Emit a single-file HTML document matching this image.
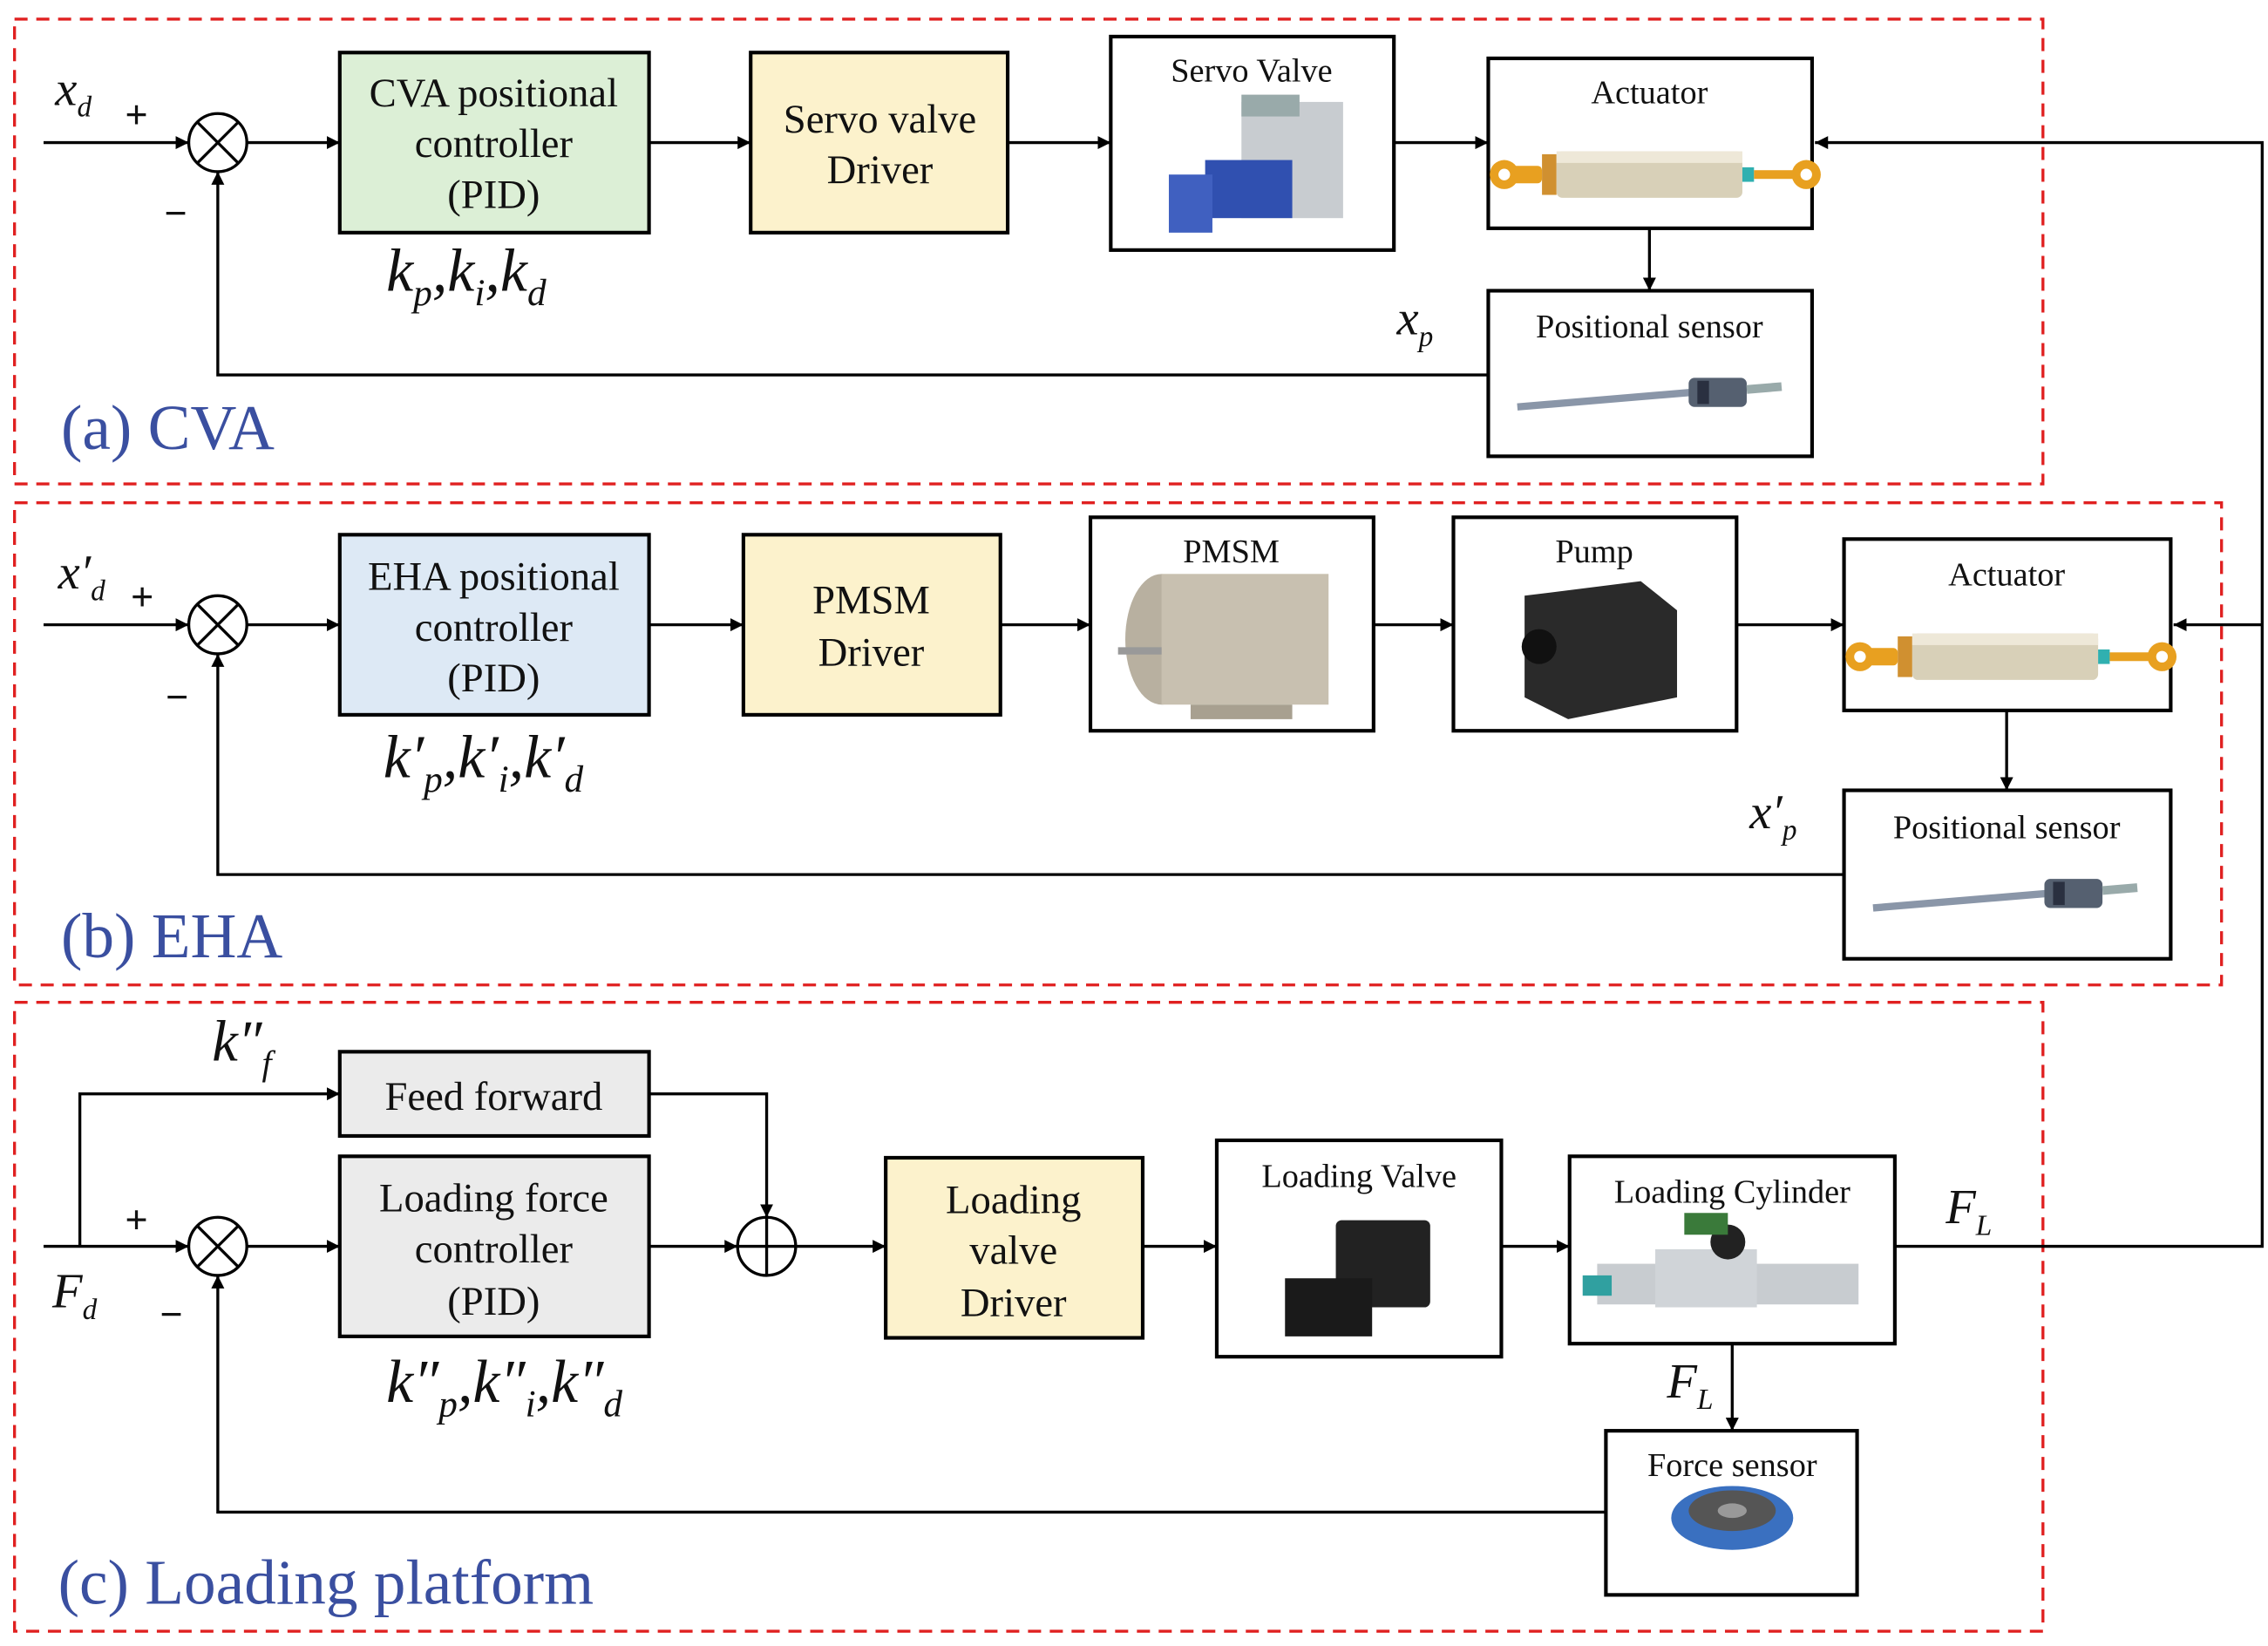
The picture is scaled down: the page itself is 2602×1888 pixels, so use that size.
<!DOCTYPE html>
<html><head><meta charset="utf-8"><style>
html,body{margin:0;padding:0;background:#fff;}
svg{display:block;}
text{font-family:"Liberation Serif",serif;fill:#111;}
.bt{font-size:28px;text-anchor:middle;}
.st{font-size:23px;text-anchor:middle;}
.lab{font-size:44px;fill:#3a4fa0;}
.m{font-style:italic;}
.pm{font-size:28px;font-weight:bold;}
</style></head><body>
<svg width="2602" height="1888" viewBox="0 0 1562 1133" xmlns="http://www.w3.org/2000/svg">
<defs>
<marker id="a" viewBox="0 0 10 10" refX="10" refY="5" markerWidth="9" markerHeight="9" markerUnits="userSpaceOnUse" orient="auto"><path d="M0,0 L10,5 L0,10 z" fill="#000"/></marker>
<g id="act">
<rect x="0" y="-6" width="22" height="12" fill="#e8a020" rx="3"/>
<circle cx="-4" cy="0" r="10" fill="#e8a020"/><circle cx="-4" cy="0" r="4" fill="#fff"/>
<rect x="22" y="-14" width="10" height="28" fill="#d09030"/>
<rect x="32" y="-16" width="128" height="32" fill="#d8d0b8" rx="4"/>
<rect x="32" y="-16" width="128" height="8" fill="#eee8d8"/>
<rect x="160" y="-5" width="8" height="10" fill="#30b0b0"/>
<rect x="168" y="-3" width="30" height="6" fill="#e8a020"/>
<circle cx="204" cy="0" r="10" fill="#e8a020"/><circle cx="204" cy="0" r="4" fill="#fff"/>
</g>
<g id="sens">
<line x1="0" y1="10" x2="120" y2="0" stroke="#8a96a8" stroke-width="5"/>
<rect x="118" y="-10" width="40" height="20" fill="#556070" rx="4"/>
<rect x="124" y="-8" width="8" height="16" fill="#2a3040"/>
<line x1="158" y1="-2" x2="182" y2="-4" stroke="#9aa" stroke-width="6"/>
</g>
</defs>
<g fill="none" stroke="#e02020" stroke-width="2" stroke-dasharray="9,6">
<rect x="10" y="13" width="1397" height="320"/>
<rect x="10" y="346" width="1520" height="332"/>
<rect x="10" y="690" width="1397" height="433"/>
</g>
<g stroke="#000" stroke-width="2" fill="none">
<line x1="30" y1="98" x2="130" y2="98" marker-end="url(#a)"/>
<line x1="170" y1="98" x2="234" y2="98" marker-end="url(#a)"/>
<line x1="447" y1="98" x2="517" y2="98" marker-end="url(#a)"/>
<line x1="694" y1="98" x2="765" y2="98" marker-end="url(#a)"/>
<line x1="960" y1="98" x2="1025" y2="98" marker-end="url(#a)"/>
<line x1="1136" y1="157" x2="1136" y2="200" marker-end="url(#a)"/>
<polyline points="1025,258 150,258 150,118" marker-end="url(#a)"/>
<line x1="30" y1="430" x2="130" y2="430" marker-end="url(#a)"/>
<line x1="170" y1="430" x2="234" y2="430" marker-end="url(#a)"/>
<line x1="447" y1="430" x2="512" y2="430" marker-end="url(#a)"/>
<line x1="689" y1="430" x2="751" y2="430" marker-end="url(#a)"/>
<line x1="946" y1="430" x2="1001" y2="430" marker-end="url(#a)"/>
<line x1="1196" y1="430" x2="1270" y2="430" marker-end="url(#a)"/>
<line x1="1382" y1="489" x2="1382" y2="544" marker-end="url(#a)"/>
<polyline points="1270,602 150,602 150,450" marker-end="url(#a)"/>
<polyline points="1305,858 1558,858 1558,98 1250,98" marker-end="url(#a)"/>
<line x1="1558" y1="430" x2="1497" y2="430" marker-end="url(#a)"/>
<line x1="30" y1="858" x2="130" y2="858" marker-end="url(#a)"/>
<polyline points="55,858 55,753 234,753" marker-end="url(#a)"/>
<polyline points="447,753 528,753 528,838" marker-end="url(#a)"/>
<line x1="170" y1="858" x2="234" y2="858" marker-end="url(#a)"/>
<line x1="447" y1="858" x2="508" y2="858" marker-end="url(#a)"/>
<line x1="548" y1="858" x2="610" y2="858" marker-end="url(#a)"/>
<line x1="787" y1="858" x2="838" y2="858" marker-end="url(#a)"/>
<line x1="1034" y1="858" x2="1081" y2="858" marker-end="url(#a)"/>
<line x1="1193" y1="925" x2="1193" y2="985" marker-end="url(#a)"/>
<polyline points="1106,1041 150,1041 150,878" marker-end="url(#a)"/>
<circle cx="150" cy="98" r="20" fill="#fff"/>
<line x1="136" y1="84" x2="164" y2="112"/><line x1="164" y1="84" x2="136" y2="112"/>
<circle cx="150" cy="430" r="20" fill="#fff"/>
<line x1="136" y1="416" x2="164" y2="444"/><line x1="164" y1="416" x2="136" y2="444"/>
<circle cx="150" cy="858" r="20" fill="#fff"/>
<line x1="136" y1="844" x2="164" y2="872"/><line x1="164" y1="844" x2="136" y2="872"/>
<circle cx="528" cy="858" r="20" fill="#fff"/>
<line x1="508" y1="858" x2="548" y2="858"/><line x1="528" y1="838" x2="528" y2="878"/>
</g>
<g stroke="#000" stroke-width="2.5">
<rect x="234" y="36" width="213" height="124" fill="#dcefd6"/>
<rect x="517" y="36" width="177" height="124" fill="#fcf2cc"/>
<rect x="765" y="25" width="195" height="147" fill="#fff"/>
<rect x="1025" y="40" width="223" height="117" fill="#fff"/>
<rect x="1025" y="200" width="223" height="114" fill="#fff"/>
<rect x="234" y="368" width="213" height="124" fill="#dde9f5"/>
<rect x="512" y="368" width="177" height="124" fill="#fcf2cc"/>
<rect x="751" y="356" width="195" height="147" fill="#fff"/>
<rect x="1001" y="356" width="195" height="147" fill="#fff"/>
<rect x="1270" y="371" width="225" height="118" fill="#fff"/>
<rect x="1270" y="544" width="225" height="116" fill="#fff"/>
<rect x="234" y="724" width="213" height="58" fill="#ebebeb"/>
<rect x="234" y="796" width="213" height="124" fill="#ebebeb"/>
<rect x="610" y="797" width="177" height="124" fill="#fcf2cc"/>
<rect x="838" y="785" width="196" height="149" fill="#fff"/>
<rect x="1081" y="796" width="224" height="129" fill="#fff"/>
<rect x="1106" y="985" width="173" height="113" fill="#fff"/>
</g>
<g>
<rect x="855" y="70" width="70" height="80" fill="#c8ccd0"/><rect x="830" y="110" width="60" height="40" fill="#3050b0"/>
<rect x="805" y="120" width="30" height="40" fill="#4060c0"/><rect x="855" y="65" width="40" height="15" fill="#9aa"/>
<use href="#act" x="1040" y="120"/>
<use href="#sens" x="1045" y="270"/>
<ellipse cx="800" cy="440" rx="25" ry="45" fill="#b8b0a0"/>
<rect x="800" y="395" width="115" height="90" fill="#c8c0b0"/>
<rect x="820" y="485" width="70" height="10" fill="#a8a090"/>
<line x1="770" y1="448" x2="800" y2="448" stroke="#999" stroke-width="5"/>
<path d="M1050,410 L1130,400 L1155,420 L1155,480 L1080,495 L1050,480 Z" fill="#2a2a2a"/>
<circle cx="1060" cy="445" r="12" fill="#111"/>
<use href="#act" x="1285" y="452"/>
<use href="#sens" x="1290" y="615"/>
<rect x="920" y="840" width="65" height="60" fill="#222" rx="4"/><rect x="885" y="880" width="60" height="40" fill="#1a1a1a"/>
<rect x="1100" y="870" width="180" height="28" fill="#c8ccd0"/>
<rect x="1140" y="860" width="70" height="40" fill="#d0d4d8"/>
<circle cx="1190" cy="855" r="12" fill="#222"/>
<rect x="1160" y="835" width="30" height="15" fill="#3a7a3a"/>
<rect x="1090" y="878" width="20" height="14" fill="#30a0a0"/>
<ellipse cx="1193" cy="1045" rx="42" ry="22" fill="#3a70c0"/>
<ellipse cx="1193" cy="1040" rx="30" ry="14" fill="#555"/>
<ellipse cx="1193" cy="1040" rx="10" ry="5" fill="#999"/>
</g>
<text class="bt" x="340" y="73">CVA positional</text>
<text class="bt" x="340" y="108">controller</text>
<text class="bt" x="340" y="143">(PID)</text>
<text class="bt" x="606" y="91">Servo valve</text>
<text class="bt" x="606" y="126">Driver</text>
<text class="st" x="862" y="56">Servo Valve</text>
<text class="st" x="1136" y="71">Actuator</text>
<text class="st" x="1136" y="232">Positional sensor</text>
<text class="bt" x="340" y="406">EHA positional</text>
<text class="bt" x="340" y="441">controller</text>
<text class="bt" x="340" y="476">(PID)</text>
<text class="bt" x="600" y="422">PMSM</text>
<text class="bt" x="600" y="458">Driver</text>
<text class="st" x="848" y="387">PMSM</text>
<text class="st" x="1098" y="387">Pump</text>
<text class="st" x="1382" y="403">Actuator</text>
<text class="st" x="1382" y="577">Positional sensor</text>
<text class="bt" x="340" y="764">Feed forward</text>
<text class="bt" x="340" y="834">Loading force</text>
<text class="bt" x="340" y="869">controller</text>
<text class="bt" x="340" y="905">(PID)</text>
<text class="bt" x="698" y="835">Loading</text>
<text class="bt" x="698" y="870">valve</text>
<text class="bt" x="698" y="906">Driver</text>
<text class="st" x="936" y="817">Loading Valve</text>
<text class="st" x="1193" y="828">Loading Cylinder</text>
<text class="st" x="1193" y="1016">Force sensor</text>
<g font-size="34">
<text x="38" y="72" class="m">x<tspan font-size="20" dy="8">d</tspan></text>
<text x="86" y="88" class="pm">+</text><text x="113" y="156" class="pm">−</text>
<text x="266" y="200" class="m" font-size="42">k<tspan font-size="26" dy="10">p</tspan><tspan dy="-10">,k</tspan><tspan font-size="26" dy="10">i</tspan><tspan dy="-10">,k</tspan><tspan font-size="26" dy="10">d</tspan></text>
<text x="962" y="230" class="m">x<tspan font-size="20" dy="8">p</tspan></text>
<text x="40" y="405" class="m">x′<tspan font-size="20" dy="8">d</tspan></text>
<text x="90" y="420" class="pm">+</text><text x="114" y="489" class="pm">−</text>
<text x="264" y="535" class="m" font-size="42">k′<tspan font-size="26" dy="10">p</tspan><tspan dy="-10">,k′</tspan><tspan font-size="26" dy="10">i</tspan><tspan dy="-10">,k′</tspan><tspan font-size="26" dy="10">d</tspan></text>
<text x="1205" y="570" class="m">x′<tspan font-size="20" dy="8">p</tspan></text>
<text x="146" y="730" class="m" font-size="40">k″<tspan font-size="24" dy="10">f</tspan></text>
<text x="86" y="849" class="pm">+</text><text x="110" y="914" class="pm">−</text>
<text x="36" y="900" class="m">F<tspan font-size="20" dy="8">d</tspan></text>
<text x="266" y="965" class="m" font-size="42">k″<tspan font-size="26" dy="10">p</tspan><tspan dy="-10">,k″</tspan><tspan font-size="26" dy="10">i</tspan><tspan dy="-10">,k″</tspan><tspan font-size="26" dy="10">d</tspan></text>
<text x="1340" y="842" class="m">F<tspan font-size="20" dy="8">L</tspan></text>
<text x="1148" y="962" class="m">F<tspan font-size="20" dy="8">L</tspan></text>
</g>
<text class="lab" x="42" y="309">(a) CVA</text>
<text class="lab" x="42" y="659">(b) EHA</text>
<text class="lab" x="40" y="1104">(c) Loading platform</text>
</svg>
</body></html>
